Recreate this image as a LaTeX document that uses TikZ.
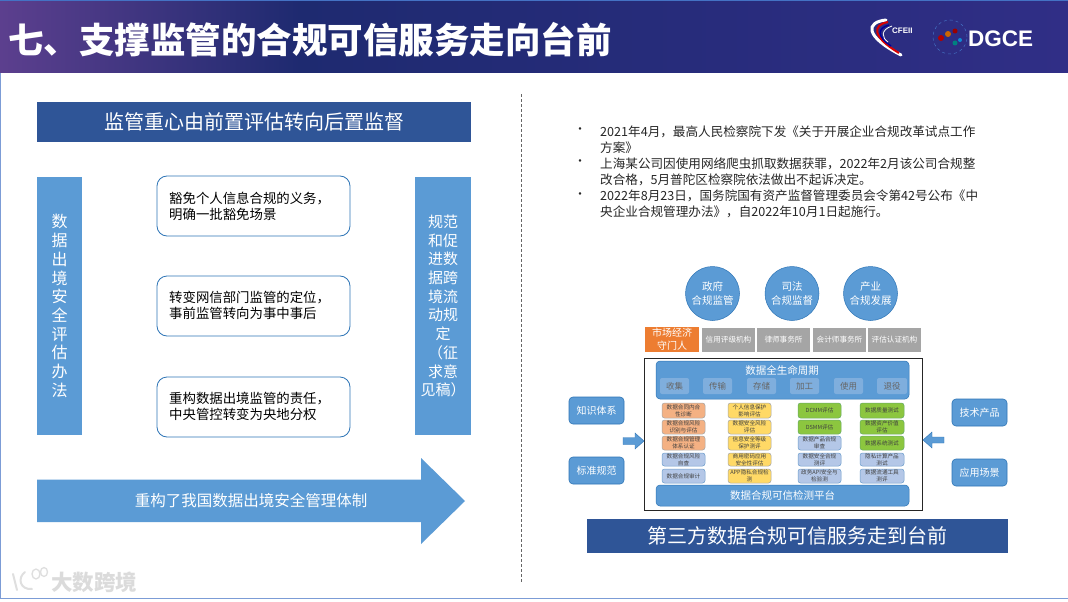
\documentclass[tikz,border=0pt]{standalone}
\usepackage{fontspec}
\setmainfont{Noto Sans CJK SC}
\newfontfamily\latinsans{Liberation Sans}
\usetikzlibrary{shapes.arrows,shadows}
\definecolor{navy}{HTML}{2F5597}
\definecolor{sky}{HTML}{5B9BD5}
\definecolor{edgeblue}{HTML}{2E75B6}
\definecolor{barmid}{HTML}{1E2A70}
\definecolor{barleft}{HTML}{5C3F8E}
\definecolor{barright}{HTML}{302E86}
\definecolor{topline}{HTML}{4472C4}
\definecolor{orangebox}{HTML}{ED7D31}
\definecolor{greybox}{HTML}{A5A5A5}
\definecolor{cellorange}{HTML}{F4B183}
\definecolor{cellyellow}{HTML}{FFD966}
\definecolor{cellgreen}{HTML}{8CC63F}
\definecolor{cellblue}{HTML}{B4C7E7}
\definecolor{phaseblue}{HTML}{7FAEDD}
\definecolor{bodytext}{HTML}{262626}
\newcommand\fsz[2]{\fontsize{#1}{#2}\selectfont}
% name, style, x1, y1, x2, y2, text
\newcommand\rectnode[7]{\node[#2,inner sep=0pt,outer sep=0pt,minimum width={(#5-#3)*1pt},minimum height={(#6-#4)*1pt}] (#1) at ({(#3+#5)/2},{(#4+#6)/2}) {#7};}
\tikzset{
  x=1pt,y=-1pt,
  band/.style={fill=navy,text=white,align=center,font=\fsz{20}{24}},
  sidecol/.style={fill=sky,text=white,align=center},
  notebox/.style={draw=edgeblue,line width=0.8pt,fill=white,rounded corners=10pt},
  notetext/.style={anchor=west,inner sep=0pt,text=black,align=left,font=\fsz{13.4}{16}},
  bullet/.style={anchor=west,inner sep=0pt,text=bodytext,font=\fsz{12}{16}},
  bullettext/.style={anchor=north west,inner sep=0pt,text=bodytext,align=left,font=\fsz{12.6}{16}},
  roundblue/.style={circle,fill=sky,draw=edgeblue,line width=0.5pt,text=white,align=center,font=\fsz{10.5}{13.5}},
  greycell/.style={fill=greybox,text=white,align=center,font=\fsz{7.6}{9}},
  lifebox/.style={fill=sky,draw=edgeblue,line width=0.5pt,rounded corners=4pt},
  phase/.style={fill=phaseblue,rounded corners=2pt,text=black!60,font=\fsz{8.5}{10}},
  cell/.style={rounded corners=2.5pt,line width=0.5pt,text=black!75,align=center,font=\fsz{5.6}{7}},
  corange/.style={cell,fill=cellorange,draw=gray!70},
  cyellow/.style={cell,fill=cellyellow,draw=gray!70},
  cgreen/.style={cell,fill=cellgreen,draw=green!45!black!60},
  cblue/.style={cell,fill=cellblue,draw=edgeblue!70},
  sidetag/.style={fill=sky,draw=edgeblue,line width=0.6pt,rounded corners=4pt,text=white,font=\fsz{10}{12}},
}
\begin{document}
\begin{tikzpicture}
\useasboundingbox (0,0) rectangle (1068,602);
\fill[white] (0,0) rectangle (1068,602);
% frame lines
\draw[topline!70,line width=0.8pt] (0.5,73) -- (0.5,598.5) -- (1068,598.5);
% title bar
\shade[left color=barleft,right color=barmid] (0,0) rectangle (300,73);
\shade[left color=barmid,right color=barright] (300,0) rectangle (1068,73);
\fill[topline] (0,0) rectangle (1068,1.5);
\node[anchor=west,inner sep=0pt,text=white,font=\bfseries\fsz{35.5}{38}] (title) at (8,40) {七、支撑监管的合规可信服务走向台前};
% CFEII logo
\draw[white,line width=3pt,line cap=round] (886,20) .. controls (866,22) and (864,36) .. (901,55);
\draw[red!85!black,line width=2pt] (888,22) .. controls (872,25) and (872,37) .. (899,53);
\draw[blue!60!black,line width=1.5pt] (889,25) .. controls (877,28) and (877,37) .. (891,46);
\draw[white,line width=0.8pt] (892,26) .. controls (880,30) and (882,38) .. (888,42);
\node[anchor=west,inner sep=0pt,text=white,font=\latinsans\bfseries\fsz{8}{9}] (cfeii) at (892,31) {CFEII};
% DGCE logo
\node[circle,draw=topline,dashed,line width=0.5pt,minimum size=34pt,inner sep=0pt] (dgcering) at (950,37) {};
\fill[red!70!black] (941,38) circle (3pt);
\fill[orange!80!black] (948,34) circle (3pt);
\fill[red!60!black] (955,31) circle (2.5pt);
\fill[teal] (955,43) circle (2.5pt);
\fill[cyan!70!blue] (960,40) circle (2pt);
\node[anchor=west,inner sep=0pt,text=white,font=\latinsans\bfseries\fsz{22.5}{24}] (dgce) at (968,38.5) {DGCE};
% left panel
\rectnode{focus}{band}{37}{102}{471}{142}{监管重心由前置评估转向后置监督}
\rectnode{leftcol}{sidecol,font=\fsz{16}{18.7}}{37}{177}{82}{435}{数\\据\\出\\境\\安\\全\\评\\估\\办\\法}
\rectnode{rightcol}{sidecol,font=\fsz{15}{18.7}}{415}{177}{471}{435}{规范\\和促\\进数\\据跨\\境流\\动规\\定\\（征\\求意\\见稿）}
\rectnode{noteA}{notebox}{157}{176}{350}{236}{}
\rectnode{noteB}{notebox}{157}{276}{350}{336}{}
\rectnode{noteC}{notebox}{157}{377}{350}{437}{}
\node[notetext] (noteAt) at (169,206) {豁免个人信息合规的义务，\\明确一批豁免场景};
\node[notetext] (noteBt) at (169,305.5) {转变网信部门监管的定位，\\事前监管转向为事中事后};
\node[notetext] (noteCt) at (169,406) {重构数据出境监管的责任，\\中央管控转变为央地分权};
\fill[sky] (37,479.5) -- (421,479.5) -- (421,458) -- (465,501) -- (421,544) -- (421,522) -- (37,522) -- cycle;
\node[text=white,font=\fsz{15.5}{18},inner sep=0pt] (rebuild) at (251,501) {重构了我国数据出境安全管理体制};
% divider
\coordinate (divtop) at (521,94);
\coordinate (divbot) at (521,583);
\draw[gray!80!black,line width=0.7pt,densely dashed] (divtop) -- (divbot);
% bullets
\node[bullet] (bA) at (574,131) {•};
\node[bullet] (bB) at (574,163) {•};
\node[bullet] (bC) at (574,196) {•};
\node[bullettext] (tA) at (600,125.5) {2021年4月，最高人民检察院下发《关于开展企业合规改革试点工作\\方案》};
\node[bullettext] (tB) at (600,157.5) {上海某公司因使用网络爬虫抓取数据获罪，2022年2月该公司合规整\\改合格，5月普陀区检察院依法做出不起诉决定。};
\node[bullettext] (tC) at (600,190) {2022年8月23日，国务院国有资产监督管理委员会令第42号公布《中\\央企业合规管理办法》，自2022年10月1日起施行。};
% circles
\node[roundblue,minimum size=54pt,inner sep=0pt] (gov) at (712.5,293.5) {政府\\合规监管};
\node[roundblue,minimum size=54pt,inner sep=0pt] (jud) at (792,293.5) {司法\\合规监督};
\node[roundblue,minimum size=54pt,inner sep=0pt] (ind) at (870.5,293.5) {产业\\合规发展};
% gatekeepers
\rectnode{keeper}{fill=orangebox,text=white,align=center,font=\fsz{10}{13}}{645}{327}{699}{352}{市场经济\\守门人}
\rectnode{gA}{greycell}{702}{328}{755}{352}{信用评级机构}
\rectnode{gB}{greycell}{757}{328}{810}{352}{律师事务所}
\rectnode{gC}{greycell}{813}{328}{866}{352}{会计师事务所}
\rectnode{gD}{greycell}{868}{328}{921}{352}{评估认证机构}
% frame
\rectnode{frame}{draw=black!85,line width=0.8pt,fill=white}{644}{358}{922}{510}{}
\rectnode{life}{lifebox}{656}{361}{909}{399}{}
\node[text=white,font=\fsz{10.5}{12},inner sep=0pt] (lifetitle) at (782,370) {数据全生命周期};
\rectnode{pA}{phase}{660}{378}{689}{394}{收集}
\rectnode{pB}{phase}{703}{378}{732}{394}{传输}
\rectnode{pC}{phase}{747}{378}{776}{394}{存储}
\rectnode{pD}{phase}{790}{378}{819}{394}{加工}
\rectnode{pE}{phase}{834}{378}{863}{394}{使用}
\rectnode{pF}{phase}{877}{378}{907}{394}{退役}
% column 1
\rectnode{a1}{corange}{662}{403}{705}{418}{数据合同内合\\性诊断}
\rectnode{a2}{corange}{662}{420}{705}{434}{数据合规风险\\识别与评估}
\rectnode{a3}{corange}{662}{436}{705}{450}{数据合规管理\\体系认证}
\rectnode{a4}{cblue}{662}{453}{705}{466}{数据合规风险\\自查}
\rectnode{a5}{cblue}{662}{469}{705}{483}{数据合规审计}
% column 2
\rectnode{b1}{cyellow}{728}{403}{771}{418}{个人信息保护\\影响评估}
\rectnode{b2}{cyellow}{728}{420}{771}{434}{数据安全风险\\评估}
\rectnode{b3}{cyellow}{728}{436}{771}{450}{信息安全等级\\保护测评}
\rectnode{b4}{cyellow}{728}{453}{771}{466}{商用密码应用\\安全性评估}
\rectnode{b5}{cyellow}{728}{469}{771}{483}{APP隐私合规检\\测}
% column 3
\rectnode{c1}{cgreen}{798}{403}{841}{418}{DCMM评估}
\rectnode{c2}{cgreen}{798}{420}{841}{434}{DSMM评估}
\rectnode{c3}{cblue}{798}{436}{841}{450}{数据产品合规\\审查}
\rectnode{c4}{cblue}{798}{453}{841}{466}{数据安全合规\\测评}
\rectnode{c5}{cblue}{798}{469}{841}{483}{政务API安全与\\检验测}
% column 4
\rectnode{d1}{cgreen}{860}{403}{904}{418}{数据质量测试}
\rectnode{d2}{cgreen}{860}{420}{904}{434}{数据资产价值\\评估}
\rectnode{d3}{cgreen}{860}{436}{904}{450}{数据系统测试}
\rectnode{d4}{cblue}{860}{453}{904}{466}{隐私计算产品\\测试}
\rectnode{d5}{cblue}{860}{469}{904}{483}{数据流通工具\\测评}
% platform
\rectnode{plat}{lifebox,text=white,font=\fsz{10.5}{12}}{656}{485}{909}{506}{数据合规可信检测平台}
% side tags
\rectnode{know}{sidetag}{569}{397}{624}{424}{知识体系}
\rectnode{std}{sidetag}{569}{457}{624}{484}{标准规范}
\rectnode{tech}{sidetag}{952}{399}{1007}{426}{技术产品}
\rectnode{app}{sidetag}{952}{459}{1007}{486}{应用场景}
\fill[sky,draw=edgeblue,line width=0.4pt] (623,437.5) -- (635,437.5) -- (635,433) -- (644,441) -- (635,449) -- (635,444.5) -- (623,444.5) -- cycle;
\fill[sky,draw=edgeblue,line width=0.4pt] (944,437) -- (932,437) -- (932,432) -- (923,440) -- (932,448) -- (932,443) -- (944,443) -- cycle;
% bottom band
\rectnode{third}{band}{587}{519}{1008}{553}{第三方数据合规可信服务走到台前}
% watermark
\draw[gray!25,line width=2pt,line cap=round] (13,574) -- (17,590);
\draw[gray!25,line width=2pt,line cap=round] (25,572) .. controls (17,578) and (20,590) .. (32,589);
\draw[gray!25,line width=1.3pt] (36,574) ellipse (4pt and 5pt);
\draw[gray!25,line width=1.3pt] (44,572) ellipse (3.5pt and 4.5pt);
\node[anchor=west,inner sep=0pt,text=gray!28,font=\bfseries\fsz{21.5}{23}] (mark) at (51,582) {大数跨境};
\end{tikzpicture}
\end{document}
